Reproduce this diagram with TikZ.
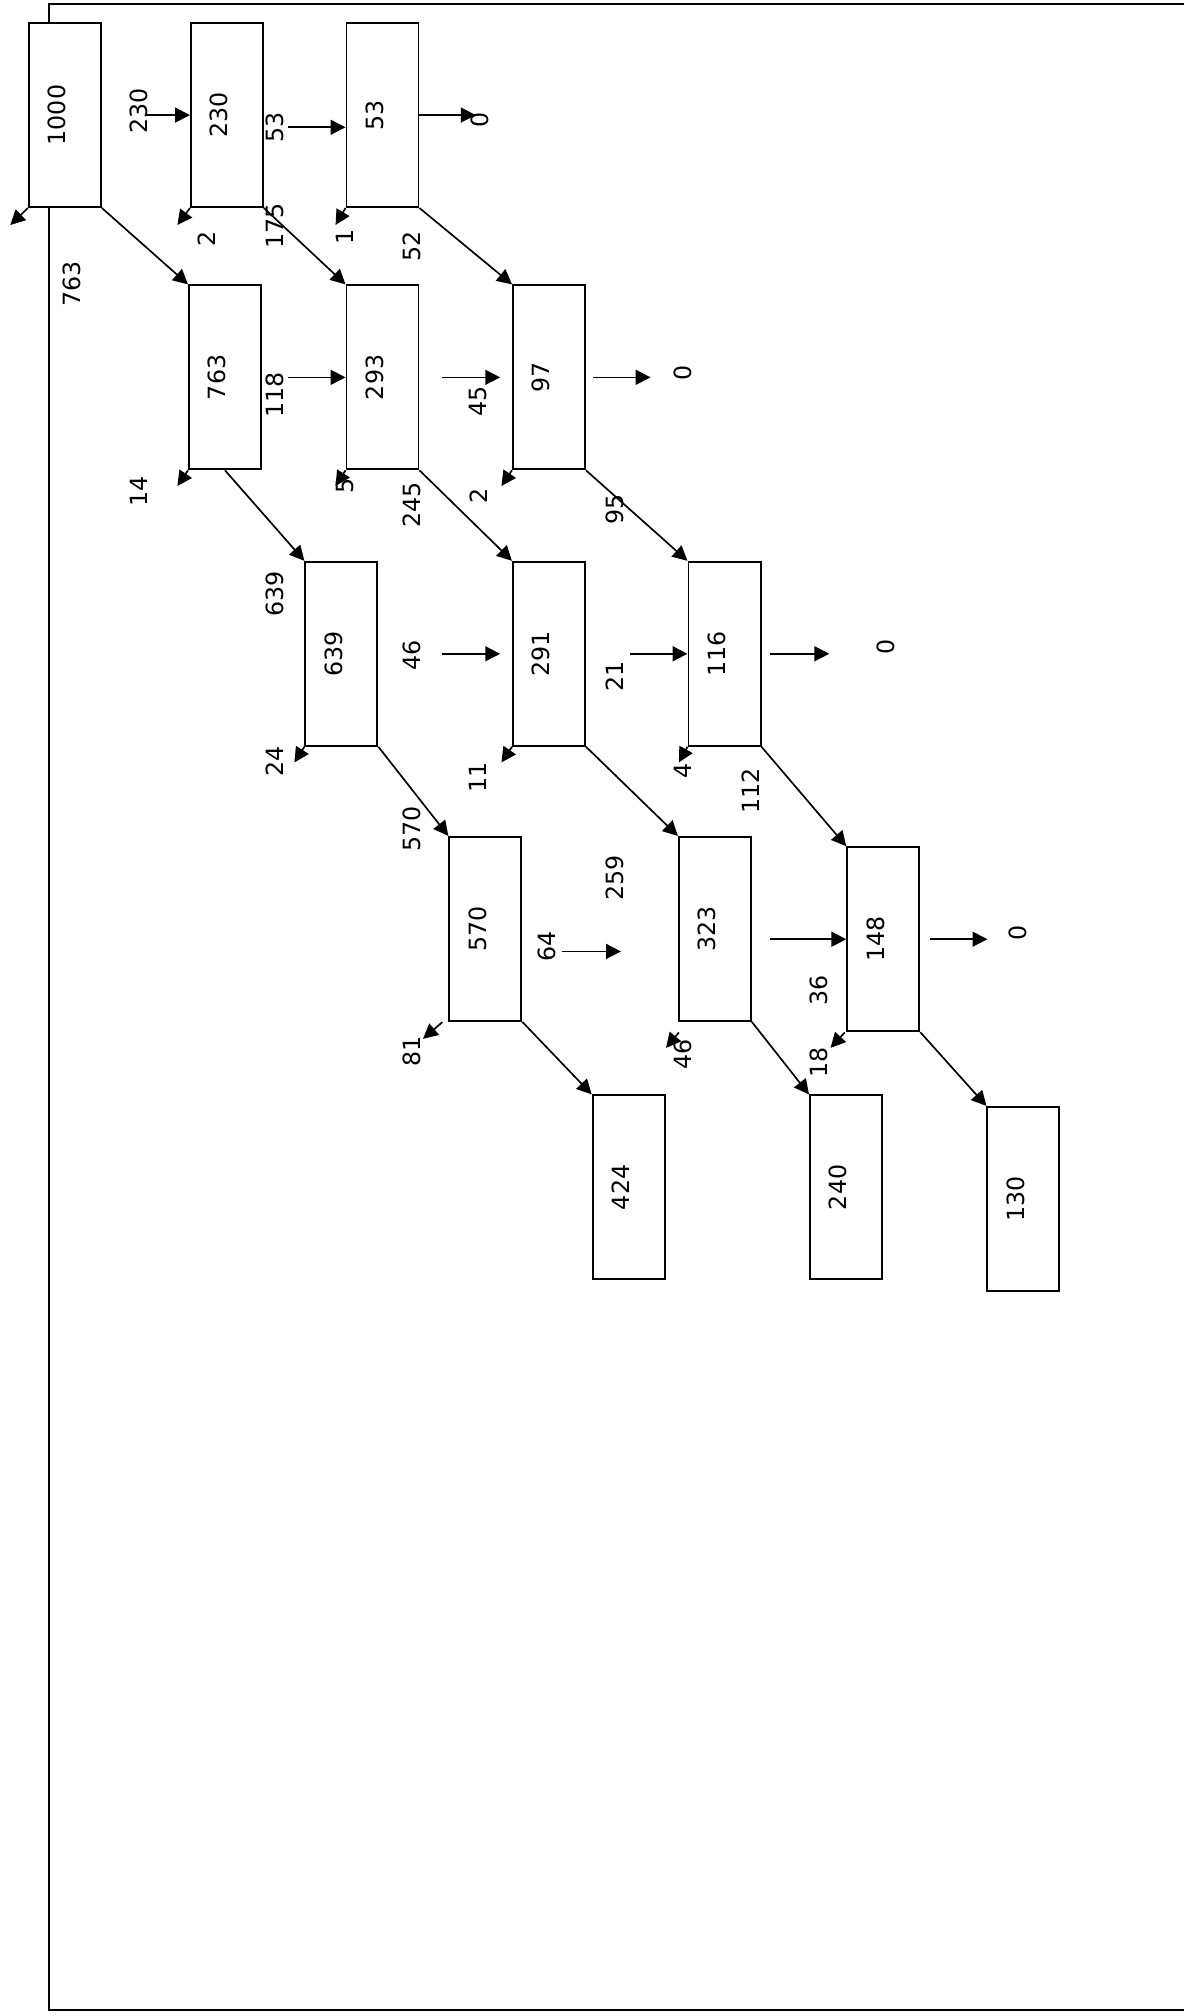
\documentclass[tikz,border=0pt]{standalone}
\usepackage{fontspec}
\setmainfont{DejaVu Sans}
\usetikzlibrary{arrows.meta}
\newcommand{\vtext}[1]{\rotatebox{90}{#1}\kern8pt}
\tikzset{
  box/.style={draw, fill=white, line width=1pt, minimum width=36.4pt, minimum height=93pt, inner sep=0pt},
  lbl/.style={rotate=90, inner sep=0pt},
  flow/.style={-{Triangle[length=7.5pt,width=7.5pt]}, line width=0.85pt},
}
\begin{document}
\begin{tikzpicture}[x=0.65pt, y=-0.65pt, font=\fontsize{12}{14}\selectfont]
        \useasboundingbox (0,0) rectangle (921,1568);

        % Draw the outer frame
        \draw[line width=1pt] (921,3) -- (38,3) -- (38,1563) -- (921,1563);

        % Draw the boxes
        \node[box] (b1000) at (50.5,89.5) {\vtext{1000}};
        \node[box] (b230) at (176.5,89.5) {\vtext{230}};
        \node[box] (b53) at (297.5,89.5) {\vtext{53}};
        \node[box] (b763) at (175,293.5) {\vtext{763}};
        \node[box] (b293) at (297.5,293.5) {\vtext{293}};
        \node[box] (b97) at (427,293.5) {\vtext{97}};
        \node[box] (b639) at (265.5,508.5) {\vtext{639}};
        \node[box] (b291) at (427,508.5) {\vtext{291}};
        \node[box] (b116) at (563.5,508.5) {\vtext{116}};
        \node[box] (b570) at (377.5,722.5) {\vtext{570}};
        \node[box] (b323) at (556,722.5) {\vtext{323}};
        \node[box] (b148) at (687,730.5) {\vtext{148}};
        \node[box] (b424) at (489,923.5) {\vtext{424}};
        \node[box] (b240) at (658,923.5) {\vtext{240}};
        \node[box] (b130) at (796,932.5) {\vtext{130}};

        % Draw the free ends of the arrows
        \coordinate (in230) at (113,89.5);
        \coordinate (s53) at (224,99);
        \coordinate (o53) at (370,89.5);
        \coordinate (in293) at (224,293.5);
        \coordinate (p45) at (344,293.5);
        \coordinate (q45) at (389,293.5);
        \coordinate (r97) at (461,293.5);
        \coordinate (o97) at (506,293.5);
        \coordinate (p46) at (344,508.5);
        \coordinate (q46) at (389,508.5);
        \coordinate (p21) at (490,508.5);
        \coordinate (r116) at (599,508.5);
        \coordinate (o116) at (645,508.5);
        \coordinate (p64) at (437,740);
        \coordinate (q64) at (483,740);
        \coordinate (p36) at (599,730.5);
        \coordinate (r148) at (723,730.5);
        \coordinate (o148) at (768,730.5);
        \coordinate (d1000) at (8,175);
        \coordinate (d230) at (138,175);
        \coordinate (d53) at (261,175);
        \coordinate (d763) at (138,378);
        \coordinate (d293) at (261,378);
        \coordinate (d97) at (390,378);
        \coordinate (d639) at (229,593);
        \coordinate (d291) at (390,593);
        \coordinate (d116) at (528,593);
        \coordinate (s570) at (344,795);
        \coordinate (d570) at (329,808);
        \coordinate (s323) at (528,803);
        \coordinate (d323) at (518,815);
        \coordinate (s148) at (657,803);
        \coordinate (d148) at (646,815);

        % Draw the straight arrows
        \draw[flow] (in230) -- (b230.west);
        \draw[flow] (s53) -- (s53 -| b53.west);
        \draw[flow] (b53.east) -- (o53);
        \draw[flow] (in293) -- (b293.west);
        \draw[flow] (p45) -- (q45);
        \draw[flow] (r97) -- (o97);
        \draw[flow] (p46) -- (q46);
        \draw[flow] (p21) -- (b116.west);
        \draw[flow] (r116) -- (o116);
        \draw[flow] (p64) -- (q64);
        \draw[flow] (p36) -- (b148.west);
        \draw[flow] (r148) -- (o148);

        % Draw the diagonal arrows
        \draw[flow] (b1000.south east) -- (b763.north west);
        \draw[flow] (b230.south east) -- (b293.north west);
        \draw[flow] (b53.south east) -- (b97.north west);
        \draw[flow] (b763.south) -- (b639.north west);
        \draw[flow] (b293.south east) -- (b291.north west);
        \draw[flow] (b97.south east) -- (b116.north west);
        \draw[flow] (b639.south east) -- (b570.north west);
        \draw[flow] (b291.south east) -- (b323.north west);
        \draw[flow] (b116.south east) -- (b148.north west);
        \draw[flow] (b570.south east) -- (b424.north west);
        \draw[flow] (b323.south east) -- (b240.north west);
        \draw[flow] (b148.south east) -- (b130.north west);

        % Draw the short arrows
        \draw[flow] (b1000.south west) -- (d1000);
        \draw[flow] (b230.south west) -- (d230);
        \draw[flow] (b53.south west) -- (d53);
        \draw[flow] (b763.south west) -- (d763);
        \draw[flow] (b293.south west) -- (d293);
        \draw[flow] (b97.south west) -- (d97);
        \draw[flow] (b639.south west) -- (d639);
        \draw[flow] (b291.south west) -- (d291);
        \draw[flow] (b116.south west) -- (d116);
        \draw[flow] (s570) -- (d570);
        \draw[flow] (s323) -- (d323);
        \draw[flow] (s148) -- (d148);

        % Draw the numbers
        \node[lbl] (n230) at (108,86) {230};
        \node[lbl] (n53) at (214,99) {53};
        \node[lbl] (z53) at (373,93) {0};
        \node[lbl] (n2a) at (161,186) {2};
        \node[lbl] (n175) at (214,176) {175};
        \node[lbl] (n1) at (268,184) {1};
        \node[lbl] (n52) at (320,192) {52};
        \node[lbl] (n763) at (56,221) {763};
        \node[lbl] (n118) at (214,307) {118};
        \node[lbl] (n45) at (372,312) {45};
        \node[lbl] (z97) at (531,290) {0};
        \node[lbl] (n14) at (108,382) {14};
        \node[lbl] (n5) at (268,378) {5};
        \node[lbl] (n245) at (320,393) {245};
        \node[lbl] (n2b) at (372,386) {2};
        \node[lbl] (n95) at (478,396) {95};
        \node[lbl] (n639) at (214,462) {639};
        \node[lbl] (n46a) at (320,510) {46};
        \node[lbl] (n21) at (478,526) {21};
        \node[lbl] (z116) at (689,503) {0};
        \node[lbl] (n24) at (214,592) {24};
        \node[lbl] (n11) at (372,605) {11};
        \node[lbl] (n4) at (531,600) {4};
        \node[lbl] (n112) at (584,615) {112};
        \node[lbl] (n570) at (320,645) {570};
        \node[lbl] (n259) at (478,683) {259};
        \node[lbl] (n64) at (425,736) {64};
        \node[lbl] (z148) at (792,726) {0};
        \node[lbl] (n36) at (637,770) {36};
        \node[lbl] (n81) at (320,818) {81};
        \node[lbl] (n46b) at (531,820) {46};
        \node[lbl] (n18) at (637,826) {18};
\end{tikzpicture}
\end{document}
